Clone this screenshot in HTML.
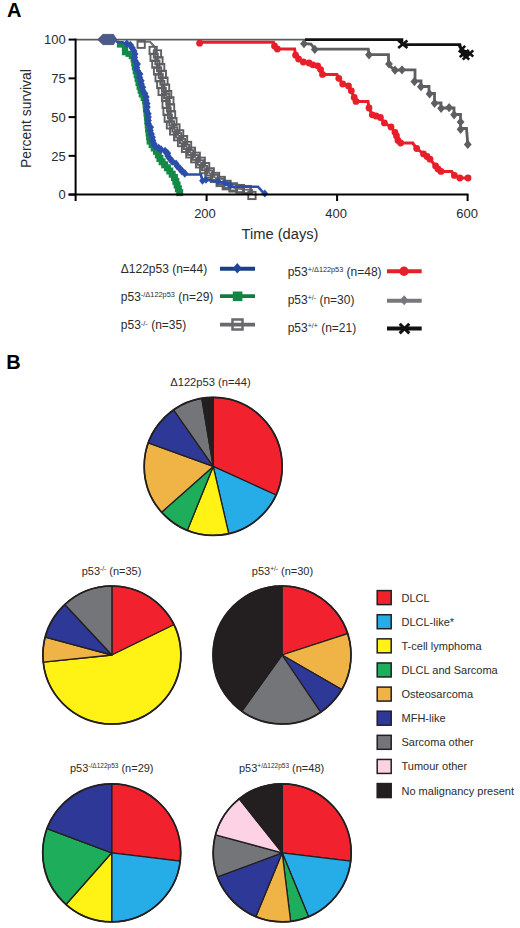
<!DOCTYPE html>
<html><head><meta charset="utf-8"><style>
html,body{margin:0;padding:0;background:#fff;width:520px;height:928px;overflow:hidden;position:relative}
text{font-family:"Liberation Sans",sans-serif}
</style></head><body>
<svg width="520" height="928" viewBox="0 0 520 928" font-family='"Liberation Sans", sans-serif' style="position:absolute;left:0;top:0">
<rect width="520" height="928" fill="#fff"/>
<text x="7" y="17.4" font-size="20" text-anchor="start" fill="#000" font-weight="bold" >A</text>
<line x1="76" y1="39.6" x2="306" y2="39.6" stroke="#5a5b5e" stroke-width="1.6"/>
<polyline points="305.0,39.6 402.0,39.6 402.0,44.6 460.0,44.6 461.0,50.0 468.0,52.0" fill="none" stroke="#111111" stroke-width="2.6"/>
<path d="M398.2,40.5L407.4,48.1M407.4,40.5L398.2,48.1" stroke="#111111" stroke-width="2.6" fill="none"/>
<path d="M458.8,45.8L465.2,52.2M465.2,45.8L458.8,52.2" stroke="#111111" stroke-width="2.6" fill="none"/>
<path d="M462.3,49.8L468.7,56.2M468.7,49.8L462.3,56.2" stroke="#111111" stroke-width="2.6" fill="none"/>
<path d="M466.8,50.3L473.2,56.7M473.2,50.3L466.8,56.7" stroke="#111111" stroke-width="2.6" fill="none"/>
<path d="M462.8,53.3L469.2,59.7M469.2,53.3L462.8,59.7" stroke="#111111" stroke-width="2.6" fill="none"/>
<path d="M459.8,50.8L466.2,57.2M466.2,50.8L459.8,57.2" stroke="#111111" stroke-width="2.6" fill="none"/>
<polyline points="304.0,43.7 311.0,44.2 314.8,49.2 368.3,49.2 369.0,54.6 388.5,54.6 388.5,65.0 395.0,70.2 402.0,69.8 415.0,69.8 415.0,81.0 421.0,81.0 421.0,86.5 429.0,86.5 429.0,93.5 434.5,93.5 434.5,103.0 441.0,103.0 441.0,108.0 449.0,108.0 454.0,108.0 454.0,114.5 460.5,114.5 460.5,128.5 466.5,128.5 467.8,144.4" fill="none" stroke="#5d5e61" stroke-width="2.8"/>
<path d="M304.0,39.1L307.9,43.7L304.0,48.3L300.1,43.7Z" fill="#5d5e61" stroke="none" stroke-width="0"/>
<path d="M314.8,44.8L318.7,49.4L314.8,54.0L310.9,49.4Z" fill="#5d5e61" stroke="none" stroke-width="0"/>
<path d="M369.0,50.2L372.9,54.8L369.0,59.4L365.1,54.8Z" fill="#5d5e61" stroke="none" stroke-width="0"/>
<path d="M389.0,59.4L392.9,64.0L389.0,68.6L385.1,64.0Z" fill="#5d5e61" stroke="none" stroke-width="0"/>
<path d="M395.0,65.6L398.9,70.2L395.0,74.8L391.1,70.2Z" fill="#5d5e61" stroke="none" stroke-width="0"/>
<path d="M402.0,65.2L405.9,69.8L402.0,74.4L398.1,69.8Z" fill="#5d5e61" stroke="none" stroke-width="0"/>
<path d="M414.4,77.0L418.3,81.6L414.4,86.2L410.5,81.6Z" fill="#5d5e61" stroke="none" stroke-width="0"/>
<path d="M420.9,82.1L424.8,86.7L420.9,91.3L417.0,86.7Z" fill="#5d5e61" stroke="none" stroke-width="0"/>
<path d="M429.6,89.3L433.5,93.9L429.6,98.5L425.7,93.9Z" fill="#5d5e61" stroke="none" stroke-width="0"/>
<path d="M434.6,98.7L438.5,103.3L434.6,107.9L430.7,103.3Z" fill="#5d5e61" stroke="none" stroke-width="0"/>
<path d="M441.1,103.7L445.0,108.3L441.1,112.9L437.2,108.3Z" fill="#5d5e61" stroke="none" stroke-width="0"/>
<path d="M449.1,103.0L453.0,107.6L449.1,112.2L445.2,107.6Z" fill="#5d5e61" stroke="none" stroke-width="0"/>
<path d="M454.1,110.2L458.0,114.8L454.1,119.4L450.2,114.8Z" fill="#5d5e61" stroke="none" stroke-width="0"/>
<path d="M460.6,117.4L464.5,122.0L460.6,126.6L456.7,122.0Z" fill="#5d5e61" stroke="none" stroke-width="0"/>
<path d="M460.6,124.7L464.5,129.3L460.6,133.9L456.7,129.3Z" fill="#5d5e61" stroke="none" stroke-width="0"/>
<path d="M467.8,139.8L471.7,144.4L467.8,149.0L463.9,144.4Z" fill="#5d5e61" stroke="none" stroke-width="0"/>
<polyline points="199.0,42.2 273.5,42.2 274.4,45.6 277.3,49.0 294.6,49.0 295.6,55.2 298.5,59.0 303.3,62.0 309.0,63.0 312.9,64.8 317.7,65.8 320.6,69.6 322.5,74.4 337.0,74.4 338.8,78.3 342.7,84.0 348.5,86.0 351.3,90.8 354.2,97.5 356.0,101.4 368.0,101.4 369.0,108.0 372.3,114.8 380.4,117.5 384.4,122.9 391.0,127.0 395.0,132.3 398.0,140.4 400.6,143.0 412.7,143.0 416.7,148.5 423.5,153.9 430.0,159.2 435.6,166.0 441.0,171.4 451.7,171.4 454.4,175.4 459.8,178.0 468.0,178.0" fill="none" stroke="#e81e2b" stroke-width="3"/>
<circle cx="199.6" cy="43.2" r="3.4" fill="#e81e2b"/>
<circle cx="274.5" cy="46" r="3.4" fill="#e81e2b"/>
<circle cx="277.3" cy="49" r="3.4" fill="#e81e2b"/>
<circle cx="295.6" cy="55.2" r="3.4" fill="#e81e2b"/>
<circle cx="298.5" cy="59" r="3.4" fill="#e81e2b"/>
<circle cx="303.3" cy="62" r="3.4" fill="#e81e2b"/>
<circle cx="309" cy="63" r="3.4" fill="#e81e2b"/>
<circle cx="312.9" cy="64.8" r="3.4" fill="#e81e2b"/>
<circle cx="317.7" cy="65.8" r="3.4" fill="#e81e2b"/>
<circle cx="320.6" cy="69.6" r="3.4" fill="#e81e2b"/>
<circle cx="322.5" cy="74.4" r="3.4" fill="#e81e2b"/>
<circle cx="338.8" cy="78.3" r="3.4" fill="#e81e2b"/>
<circle cx="342.7" cy="84" r="3.4" fill="#e81e2b"/>
<circle cx="348.5" cy="86" r="3.4" fill="#e81e2b"/>
<circle cx="351.3" cy="90.8" r="3.4" fill="#e81e2b"/>
<circle cx="354.2" cy="97.5" r="3.4" fill="#e81e2b"/>
<circle cx="356" cy="101.4" r="3.4" fill="#e81e2b"/>
<circle cx="369" cy="108" r="3.4" fill="#e81e2b"/>
<circle cx="372.3" cy="114.8" r="3.4" fill="#e81e2b"/>
<circle cx="380.4" cy="117.5" r="3.4" fill="#e81e2b"/>
<circle cx="384.4" cy="122.9" r="3.4" fill="#e81e2b"/>
<circle cx="391" cy="127" r="3.4" fill="#e81e2b"/>
<circle cx="395" cy="132.3" r="3.4" fill="#e81e2b"/>
<circle cx="398" cy="140.4" r="3.4" fill="#e81e2b"/>
<circle cx="400.6" cy="143" r="3.4" fill="#e81e2b"/>
<circle cx="416.7" cy="148.5" r="3.4" fill="#e81e2b"/>
<circle cx="423.5" cy="153.9" r="3.4" fill="#e81e2b"/>
<circle cx="430" cy="159.2" r="3.4" fill="#e81e2b"/>
<circle cx="435.6" cy="166" r="3.4" fill="#e81e2b"/>
<circle cx="441" cy="171.4" r="3.4" fill="#e81e2b"/>
<circle cx="454.4" cy="175.4" r="3.4" fill="#e81e2b"/>
<circle cx="459.8" cy="178" r="3.4" fill="#e81e2b"/>
<circle cx="468" cy="178" r="3.4" fill="#e81e2b"/>
<circle cx="376" cy="116" r="3.4" fill="#e81e2b"/>
<circle cx="396.5" cy="136" r="3.4" fill="#e81e2b"/>
<circle cx="427" cy="156.5" r="3.4" fill="#e81e2b"/>
<circle cx="438" cy="169" r="3.4" fill="#e81e2b"/>
<polyline points="138.0,41.8 150.0,41.8 154.8,47.0 155.5,55.0 157.3,62.0 160.0,73.0 163.1,86.0 164.5,93.0 167.5,97.0 168.2,105.0 169.6,115.0 171.0,122.0 175.0,130.0 182.5,141.0 190.0,152.0 196.0,158.0 201.0,163.0 206.0,170.0 213.0,176.0 220.0,181.0 226.0,185.0 235.0,188.0 245.0,189.5 252.0,190.0 252.0,195.0" fill="none" stroke="#6d6e71" stroke-width="2"/>
<rect x="137.5" y="40.6" width="7.3" height="7.3" fill="none" stroke="#5e5f62" stroke-width="1.9"/>
<rect x="149.5" y="46.8" width="7.3" height="7.3" fill="none" stroke="#5e5f62" stroke-width="1.9"/>
<rect x="153.8" y="50.3" width="7.3" height="7.3" fill="none" stroke="#5e5f62" stroke-width="1.9"/>
<rect x="150.5" y="53.7" width="7.3" height="7.3" fill="none" stroke="#5e5f62" stroke-width="1.9"/>
<rect x="155.3" y="57.1" width="7.3" height="7.3" fill="none" stroke="#5e5f62" stroke-width="1.9"/>
<rect x="152.2" y="60.5" width="7.3" height="7.3" fill="none" stroke="#5e5f62" stroke-width="1.9"/>
<rect x="157.0" y="63.9" width="7.3" height="7.3" fill="none" stroke="#5e5f62" stroke-width="1.9"/>
<rect x="153.9" y="67.3" width="7.3" height="7.3" fill="none" stroke="#5e5f62" stroke-width="1.9"/>
<rect x="158.7" y="70.7" width="7.3" height="7.3" fill="none" stroke="#5e5f62" stroke-width="1.9"/>
<rect x="155.5" y="74.1" width="7.3" height="7.3" fill="none" stroke="#5e5f62" stroke-width="1.9"/>
<rect x="160.3" y="77.5" width="7.3" height="7.3" fill="none" stroke="#5e5f62" stroke-width="1.9"/>
<rect x="157.1" y="80.9" width="7.3" height="7.3" fill="none" stroke="#5e5f62" stroke-width="1.9"/>
<rect x="161.9" y="84.4" width="7.3" height="7.3" fill="none" stroke="#5e5f62" stroke-width="1.9"/>
<rect x="158.5" y="87.8" width="7.3" height="7.3" fill="none" stroke="#5e5f62" stroke-width="1.9"/>
<rect x="164.0" y="90.9" width="7.3" height="7.3" fill="none" stroke="#5e5f62" stroke-width="1.9"/>
<rect x="161.9" y="93.8" width="7.3" height="7.3" fill="none" stroke="#5e5f62" stroke-width="1.9"/>
<rect x="166.2" y="97.2" width="7.3" height="7.3" fill="none" stroke="#5e5f62" stroke-width="1.9"/>
<rect x="162.5" y="100.7" width="7.3" height="7.3" fill="none" stroke="#5e5f62" stroke-width="1.9"/>
<rect x="166.9" y="104.2" width="7.3" height="7.3" fill="none" stroke="#5e5f62" stroke-width="1.9"/>
<rect x="163.4" y="107.7" width="7.3" height="7.3" fill="none" stroke="#5e5f62" stroke-width="1.9"/>
<rect x="167.9" y="111.1" width="7.3" height="7.3" fill="none" stroke="#5e5f62" stroke-width="1.9"/>
<rect x="164.6" y="114.6" width="7.3" height="7.3" fill="none" stroke="#5e5f62" stroke-width="1.9"/>
<rect x="169.3" y="118.0" width="7.3" height="7.3" fill="none" stroke="#5e5f62" stroke-width="1.9"/>
<rect x="166.8" y="121.2" width="7.3" height="7.3" fill="none" stroke="#5e5f62" stroke-width="1.9"/>
<rect x="172.3" y="124.3" width="7.3" height="7.3" fill="none" stroke="#5e5f62" stroke-width="1.9"/>
<rect x="170.0" y="127.3" width="7.3" height="7.3" fill="none" stroke="#5e5f62" stroke-width="1.9"/>
<rect x="176.0" y="130.2" width="7.3" height="7.3" fill="none" stroke="#5e5f62" stroke-width="1.9"/>
<rect x="174.0" y="133.1" width="7.3" height="7.3" fill="none" stroke="#5e5f62" stroke-width="1.9"/>
<rect x="179.9" y="136.0" width="7.3" height="7.3" fill="none" stroke="#5e5f62" stroke-width="1.9"/>
<rect x="177.9" y="138.9" width="7.3" height="7.3" fill="none" stroke="#5e5f62" stroke-width="1.9"/>
<rect x="183.9" y="141.8" width="7.3" height="7.3" fill="none" stroke="#5e5f62" stroke-width="1.9"/>
<rect x="181.9" y="144.7" width="7.3" height="7.3" fill="none" stroke="#5e5f62" stroke-width="1.9"/>
<rect x="187.8" y="147.6" width="7.3" height="7.3" fill="none" stroke="#5e5f62" stroke-width="1.9"/>
<rect x="186.2" y="150.2" width="7.3" height="7.3" fill="none" stroke="#5e5f62" stroke-width="1.9"/>
<rect x="192.6" y="152.6" width="7.3" height="7.3" fill="none" stroke="#5e5f62" stroke-width="1.9"/>
<rect x="191.1" y="155.1" width="7.3" height="7.3" fill="none" stroke="#5e5f62" stroke-width="1.9"/>
<rect x="197.6" y="157.6" width="7.3" height="7.3" fill="none" stroke="#5e5f62" stroke-width="1.9"/>
<rect x="195.9" y="160.2" width="7.3" height="7.3" fill="none" stroke="#5e5f62" stroke-width="1.9"/>
<rect x="202.0" y="163.0" width="7.3" height="7.3" fill="none" stroke="#5e5f62" stroke-width="1.9"/>
<rect x="200.0" y="165.9" width="7.3" height="7.3" fill="none" stroke="#5e5f62" stroke-width="1.9"/>
<rect x="206.6" y="168.2" width="7.3" height="7.3" fill="none" stroke="#5e5f62" stroke-width="1.9"/>
<rect x="205.2" y="170.5" width="7.3" height="7.3" fill="none" stroke="#5e5f62" stroke-width="1.9"/>
<rect x="211.9" y="172.8" width="7.3" height="7.3" fill="none" stroke="#5e5f62" stroke-width="1.9"/>
<rect x="210.8" y="174.8" width="7.3" height="7.3" fill="none" stroke="#5e5f62" stroke-width="1.9"/>
<rect x="217.6" y="176.8" width="7.3" height="7.3" fill="none" stroke="#5e5f62" stroke-width="1.9"/>
<rect x="216.5" y="178.8" width="7.3" height="7.3" fill="none" stroke="#5e5f62" stroke-width="1.9"/>
<rect x="223.4" y="180.7" width="7.3" height="7.3" fill="none" stroke="#5e5f62" stroke-width="1.9"/>
<rect x="222.6" y="182.1" width="7.3" height="7.3" fill="none" stroke="#5e5f62" stroke-width="1.9"/>
<rect x="229.9" y="183.2" width="7.3" height="7.3" fill="none" stroke="#5e5f62" stroke-width="1.9"/>
<rect x="229.3" y="184.3" width="7.3" height="7.3" fill="none" stroke="#5e5f62" stroke-width="1.9"/>
<rect x="236.7" y="184.9" width="7.3" height="7.3" fill="none" stroke="#5e5f62" stroke-width="1.9"/>
<rect x="236.2" y="185.4" width="7.3" height="7.3" fill="none" stroke="#5e5f62" stroke-width="1.9"/>
<rect x="243.6" y="185.9" width="7.3" height="7.3" fill="none" stroke="#5e5f62" stroke-width="1.9"/>
<rect x="243.1" y="186.1" width="7.3" height="7.3" fill="none" stroke="#5e5f62" stroke-width="1.9"/>
<rect x="248.3" y="191.8" width="7.3" height="7.3" fill="none" stroke="#5e5f62" stroke-width="1.9"/>
<path d="M97.8,39.6 L102.8,34.4 L113.5,34.4 L116.6,39.4 L113.5,44.6 L102.8,44.6 Z" fill="#4b5a8b" stroke="#3b4570" stroke-width="0.8"/>
<polyline points="117.0,42.5 122.7,42.5 122.7,46.5 125.0,46.5 125.0,52.3 130.5,54.6 133.5,58.0 135.0,68.0 137.0,76.0 138.4,82.3 140.5,90.0 142.0,95.0 145.0,100.0 146.3,110.0 147.3,120.0 148.3,130.0 149.5,140.0 153.5,147.0 157.0,152.0 160.5,160.0 167.5,168.0 174.0,176.5 177.5,186.0 180.5,195.0" fill="none" stroke="#138a45" stroke-width="2.4"/>
<rect x="116.9" y="41.4" width="6.2" height="6.2" fill="#138a45" stroke="none" stroke-width="0"/>
<rect x="121.9" y="45.1" width="6.2" height="6.2" fill="#138a45" stroke="none" stroke-width="0"/>
<rect x="121.9" y="49.1" width="6.2" height="6.2" fill="#138a45" stroke="none" stroke-width="0"/>
<rect x="125.5" y="50.7" width="6.2" height="6.2" fill="#138a45" stroke="none" stroke-width="0"/>
<rect x="128.7" y="53.0" width="6.2" height="6.2" fill="#138a45" stroke="none" stroke-width="0"/>
<rect x="130.6" y="56.3" width="6.2" height="6.2" fill="#138a45" stroke="none" stroke-width="0"/>
<rect x="131.2" y="60.2" width="6.2" height="6.2" fill="#138a45" stroke="none" stroke-width="0"/>
<rect x="131.8" y="64.2" width="6.2" height="6.2" fill="#138a45" stroke="none" stroke-width="0"/>
<rect x="132.7" y="68.1" width="6.2" height="6.2" fill="#138a45" stroke="none" stroke-width="0"/>
<rect x="133.7" y="72.0" width="6.2" height="6.2" fill="#138a45" stroke="none" stroke-width="0"/>
<rect x="134.6" y="75.9" width="6.2" height="6.2" fill="#138a45" stroke="none" stroke-width="0"/>
<rect x="135.5" y="79.8" width="6.2" height="6.2" fill="#138a45" stroke="none" stroke-width="0"/>
<rect x="136.5" y="83.6" width="6.2" height="6.2" fill="#138a45" stroke="none" stroke-width="0"/>
<rect x="137.6" y="87.5" width="6.2" height="6.2" fill="#138a45" stroke="none" stroke-width="0"/>
<rect x="138.7" y="91.3" width="6.2" height="6.2" fill="#138a45" stroke="none" stroke-width="0"/>
<rect x="140.6" y="94.8" width="6.2" height="6.2" fill="#138a45" stroke="none" stroke-width="0"/>
<rect x="142.1" y="98.4" width="6.2" height="6.2" fill="#138a45" stroke="none" stroke-width="0"/>
<rect x="142.6" y="102.4" width="6.2" height="6.2" fill="#138a45" stroke="none" stroke-width="0"/>
<rect x="143.1" y="106.4" width="6.2" height="6.2" fill="#138a45" stroke="none" stroke-width="0"/>
<rect x="143.5" y="110.4" width="6.2" height="6.2" fill="#138a45" stroke="none" stroke-width="0"/>
<rect x="143.9" y="114.3" width="6.2" height="6.2" fill="#138a45" stroke="none" stroke-width="0"/>
<rect x="144.3" y="118.3" width="6.2" height="6.2" fill="#138a45" stroke="none" stroke-width="0"/>
<rect x="144.7" y="122.3" width="6.2" height="6.2" fill="#138a45" stroke="none" stroke-width="0"/>
<rect x="145.1" y="126.3" width="6.2" height="6.2" fill="#138a45" stroke="none" stroke-width="0"/>
<rect x="145.6" y="130.3" width="6.2" height="6.2" fill="#138a45" stroke="none" stroke-width="0"/>
<rect x="146.1" y="134.2" width="6.2" height="6.2" fill="#138a45" stroke="none" stroke-width="0"/>
<rect x="146.6" y="137.6" width="7.0" height="7.0" fill="#138a45" stroke="none" stroke-width="0"/>
<rect x="148.6" y="141.1" width="7.0" height="7.0" fill="#138a45" stroke="none" stroke-width="0"/>
<rect x="150.7" y="144.5" width="7.0" height="7.0" fill="#138a45" stroke="none" stroke-width="0"/>
<rect x="153.0" y="147.8" width="7.0" height="7.0" fill="#138a45" stroke="none" stroke-width="0"/>
<rect x="154.8" y="151.4" width="7.0" height="7.0" fill="#138a45" stroke="none" stroke-width="0"/>
<rect x="156.4" y="155.0" width="7.0" height="7.0" fill="#138a45" stroke="none" stroke-width="0"/>
<rect x="158.6" y="158.3" width="7.0" height="7.0" fill="#138a45" stroke="none" stroke-width="0"/>
<rect x="161.2" y="161.3" width="7.0" height="7.0" fill="#138a45" stroke="none" stroke-width="0"/>
<rect x="163.9" y="164.3" width="7.0" height="7.0" fill="#138a45" stroke="none" stroke-width="0"/>
<rect x="166.3" y="167.5" width="7.0" height="7.0" fill="#138a45" stroke="none" stroke-width="0"/>
<rect x="168.7" y="170.7" width="7.0" height="7.0" fill="#138a45" stroke="none" stroke-width="0"/>
<rect x="170.9" y="174.0" width="7.0" height="7.0" fill="#138a45" stroke="none" stroke-width="0"/>
<rect x="172.3" y="177.8" width="7.0" height="7.0" fill="#138a45" stroke="none" stroke-width="0"/>
<rect x="173.6" y="181.5" width="7.0" height="7.0" fill="#138a45" stroke="none" stroke-width="0"/>
<rect x="174.9" y="185.3" width="7.0" height="7.0" fill="#138a45" stroke="none" stroke-width="0"/>
<rect x="176.2" y="189.1" width="7.0" height="7.0" fill="#138a45" stroke="none" stroke-width="0"/>
<polyline points="116.0,41.5 124.0,43.0 129.6,44.2 133.0,48.8 135.3,56.5 137.2,67.8 139.0,75.0 140.8,82.3 142.5,88.0 145.0,95.0 146.6,104.7 147.6,114.4 149.2,124.1 150.2,130.6 152.1,140.3 153.5,145.0 158.0,148.0 166.0,152.0 171.5,160.0 180.0,169.0 186.0,174.5 187.0,174.5 200.8,174.5 202.5,180.7 206.0,179.8 215.0,181.0 225.0,183.0 230.0,184.5 230.0,186.7 258.0,186.7 264.8,194.3" fill="none" stroke="#2b4fa8" stroke-width="2.6"/>
<path d="M126.8,39.4L130.5,43.7L126.8,48.0L123.1,43.7Z" fill="#2b4fa8" stroke="none" stroke-width="0"/>
<path d="M130.3,40.8L134.0,45.1L130.3,49.4L126.7,45.1Z" fill="#2b4fa8" stroke="none" stroke-width="0"/>
<path d="M132.0,43.5L135.7,47.8L132.0,52.1L128.3,47.8Z" fill="#2b4fa8" stroke="none" stroke-width="0"/>
<path d="M133.8,46.6L137.5,50.9L133.8,55.2L130.2,50.9Z" fill="#2b4fa8" stroke="none" stroke-width="0"/>
<path d="M134.8,49.8L138.5,54.1L134.8,58.4L131.2,54.1Z" fill="#2b4fa8" stroke="none" stroke-width="0"/>
<path d="M134.6,53.1L138.2,57.4L134.6,61.7L130.9,57.4Z" fill="#2b4fa8" stroke="none" stroke-width="0"/>
<path d="M135.0,56.5L138.7,60.8L135.0,65.1L131.4,60.8Z" fill="#2b4fa8" stroke="none" stroke-width="0"/>
<path d="M137.3,59.8L140.9,64.1L137.3,68.4L133.6,64.1Z" fill="#2b4fa8" stroke="none" stroke-width="0"/>
<path d="M136.7,63.2L140.3,67.5L136.7,71.8L133.0,67.5Z" fill="#2b4fa8" stroke="none" stroke-width="0"/>
<path d="M137.4,66.5L141.1,70.8L137.4,75.1L133.8,70.8Z" fill="#2b4fa8" stroke="none" stroke-width="0"/>
<path d="M139.8,69.8L143.4,74.1L139.8,78.4L136.1,74.1Z" fill="#2b4fa8" stroke="none" stroke-width="0"/>
<path d="M139.5,73.1L143.2,77.4L139.5,81.7L135.9,77.4Z" fill="#2b4fa8" stroke="none" stroke-width="0"/>
<path d="M141.1,76.4L144.7,80.7L141.1,85.0L137.4,80.7Z" fill="#2b4fa8" stroke="none" stroke-width="0"/>
<path d="M141.2,79.6L144.9,83.9L141.2,88.2L137.6,83.9Z" fill="#2b4fa8" stroke="none" stroke-width="0"/>
<path d="M142.5,82.9L146.2,87.2L142.5,91.5L138.9,87.2Z" fill="#2b4fa8" stroke="none" stroke-width="0"/>
<path d="M142.7,86.1L146.3,90.4L142.7,94.7L139.0,90.4Z" fill="#2b4fa8" stroke="none" stroke-width="0"/>
<path d="M144.8,89.3L148.4,93.6L144.8,97.9L141.1,93.6Z" fill="#2b4fa8" stroke="none" stroke-width="0"/>
<path d="M146.1,92.6L149.7,96.9L146.1,101.2L142.4,96.9Z" fill="#2b4fa8" stroke="none" stroke-width="0"/>
<path d="M145.9,96.0L149.6,100.3L145.9,104.6L142.3,100.3Z" fill="#2b4fa8" stroke="none" stroke-width="0"/>
<path d="M146.9,99.3L150.6,103.6L146.9,107.9L143.2,103.6Z" fill="#2b4fa8" stroke="none" stroke-width="0"/>
<path d="M147.2,102.7L150.8,107.0L147.2,111.3L143.5,107.0Z" fill="#2b4fa8" stroke="none" stroke-width="0"/>
<path d="M146.3,106.1L150.0,110.4L146.3,114.7L142.7,110.4Z" fill="#2b4fa8" stroke="none" stroke-width="0"/>
<path d="M148.1,109.5L151.7,113.8L148.1,118.1L144.4,113.8Z" fill="#2b4fa8" stroke="none" stroke-width="0"/>
<path d="M148.2,112.8L151.9,117.1L148.2,121.4L144.6,117.1Z" fill="#2b4fa8" stroke="none" stroke-width="0"/>
<path d="M148.2,116.2L151.9,120.5L148.2,124.8L144.5,120.5Z" fill="#2b4fa8" stroke="none" stroke-width="0"/>
<path d="M148.2,119.5L151.9,123.8L148.2,128.1L144.6,123.8Z" fill="#2b4fa8" stroke="none" stroke-width="0"/>
<path d="M150.4,122.9L154.1,127.2L150.4,131.5L146.8,127.2Z" fill="#2b4fa8" stroke="none" stroke-width="0"/>
<path d="M150.1,126.2L153.8,130.5L150.1,134.8L146.5,130.5Z" fill="#2b4fa8" stroke="none" stroke-width="0"/>
<path d="M151.3,129.6L154.9,133.9L151.3,138.2L147.6,133.9Z" fill="#2b4fa8" stroke="none" stroke-width="0"/>
<path d="M152.3,132.9L155.9,137.2L152.3,141.5L148.6,137.2Z" fill="#2b4fa8" stroke="none" stroke-width="0"/>
<path d="M152.6,136.3L156.3,140.6L152.6,144.9L148.9,140.6Z" fill="#2b4fa8" stroke="none" stroke-width="0"/>
<path d="M154.0,139.5L157.6,143.8L154.0,148.1L150.3,143.8Z" fill="#2b4fa8" stroke="none" stroke-width="0"/>
<path d="M155.1,141.9L158.7,146.2L155.1,150.5L151.4,146.2Z" fill="#2b4fa8" stroke="none" stroke-width="0"/>
<path d="M158.7,143.8L162.4,148.1L158.7,152.4L155.1,148.1Z" fill="#2b4fa8" stroke="none" stroke-width="0"/>
<path d="M161.1,145.3L164.7,149.6L161.1,153.9L157.4,149.6Z" fill="#2b4fa8" stroke="none" stroke-width="0"/>
<path d="M165.1,146.8L168.7,151.1L165.1,155.4L161.4,151.1Z" fill="#2b4fa8" stroke="none" stroke-width="0"/>
<path d="M167.6,148.9L171.2,153.2L167.6,157.5L163.9,153.2Z" fill="#2b4fa8" stroke="none" stroke-width="0"/>
<path d="M167.9,151.7L171.6,156.0L167.9,160.3L164.3,156.0Z" fill="#2b4fa8" stroke="none" stroke-width="0"/>
<path d="M169.9,154.5L173.6,158.8L169.9,163.1L166.3,158.8Z" fill="#2b4fa8" stroke="none" stroke-width="0"/>
<path d="M172.2,157.1L175.9,161.4L172.2,165.7L168.6,161.4Z" fill="#2b4fa8" stroke="none" stroke-width="0"/>
<path d="M176.1,159.6L179.7,163.9L176.1,168.2L172.4,163.9Z" fill="#2b4fa8" stroke="none" stroke-width="0"/>
<path d="M177.3,162.0L181.0,166.3L177.3,170.6L173.7,166.3Z" fill="#2b4fa8" stroke="none" stroke-width="0"/>
<path d="M180.1,164.5L183.7,168.8L180.1,173.1L176.4,168.8Z" fill="#2b4fa8" stroke="none" stroke-width="0"/>
<path d="M181.9,166.8L185.6,171.1L181.9,175.4L178.2,171.1Z" fill="#2b4fa8" stroke="none" stroke-width="0"/>
<path d="M184.8,169.1L188.5,173.4L184.8,177.7L181.2,173.4Z" fill="#2b4fa8" stroke="none" stroke-width="0"/>
<path d="M202.5,176.7L205.9,180.7L202.5,184.7L199.1,180.7Z" fill="#2b4fa8" stroke="none" stroke-width="0"/>
<path d="M206.0,175.8L209.4,179.8L206.0,183.8L202.6,179.8Z" fill="#2b4fa8" stroke="none" stroke-width="0"/>
<path d="M218.0,177.5L221.4,181.5L218.0,185.5L214.6,181.5Z" fill="#2b4fa8" stroke="none" stroke-width="0"/>
<path d="M225.0,179.0L228.4,183.0L225.0,187.0L221.6,183.0Z" fill="#2b4fa8" stroke="none" stroke-width="0"/>
<path d="M230.0,181.0L233.4,185.0L230.0,189.0L226.6,185.0Z" fill="#2b4fa8" stroke="none" stroke-width="0"/>
<path d="M264.8,189.5L268.2,193.5L264.8,197.5L261.4,193.5Z" fill="#2b4fa8" stroke="none" stroke-width="0"/>
<g stroke="#000" stroke-width="2" fill="none">
<line x1="75.6" y1="38.6" x2="75.6" y2="201"/>
<line x1="68.6" y1="194.6" x2="468.5" y2="194.6"/>
<line x1="68.6" y1="39.60" x2="75.6" y2="39.60"/>
<line x1="68.6" y1="78.35" x2="75.6" y2="78.35"/>
<line x1="68.6" y1="117.10" x2="75.6" y2="117.10"/>
<line x1="68.6" y1="155.85" x2="75.6" y2="155.85"/>
<line x1="68.6" y1="194.60" x2="75.6" y2="194.60"/>
<line x1="206.6" y1="194.6" x2="206.6" y2="201"/>
<line x1="337.1" y1="194.6" x2="337.1" y2="201"/>
<line x1="467.6" y1="194.6" x2="467.6" y2="201"/>
</g>
<text x="65.8" y="44.3" font-size="13" text-anchor="end" fill="#2b2b2b" font-weight="normal" >100</text>
<text x="65.8" y="83.0" font-size="13" text-anchor="end" fill="#2b2b2b" font-weight="normal" >75</text>
<text x="65.8" y="121.8" font-size="13" text-anchor="end" fill="#2b2b2b" font-weight="normal" >50</text>
<text x="65.8" y="160.5" font-size="13" text-anchor="end" fill="#2b2b2b" font-weight="normal" >25</text>
<text x="65.8" y="199.3" font-size="13" text-anchor="end" fill="#2b2b2b" font-weight="normal" >0</text>
<text x="205.0" y="217.6" font-size="13" text-anchor="middle" fill="#2b2b2b" font-weight="normal" >200</text>
<text x="336.1" y="217.6" font-size="13" text-anchor="middle" fill="#2b2b2b" font-weight="normal" >400</text>
<text x="467.2" y="217.6" font-size="13" text-anchor="middle" fill="#2b2b2b" font-weight="normal" >600</text>
<text x="280" y="238.6" font-size="14.7" text-anchor="middle" fill="#2b2b2b" font-weight="normal" >Time (days)</text>
<text x="0" y="0" font-size="13.9" text-anchor="middle" fill="#2b2b2b" transform="translate(30.9,118.6) rotate(-90)">Percent survival</text>
<text x="120.8" y="273.0" font-size="12" text-anchor="start" fill="#2b2b2b" font-weight="normal" >Δ122p53 (n=44)</text>
<text x="120.8" y="301.0" font-size="12" fill="#2b2b2b">p53<tspan font-size="7.4" dy="-3.9">-/Δ122p53</tspan><tspan dy="3.9"> (n=29)</tspan></text>
<text x="120.8" y="329.2" font-size="12" fill="#2b2b2b">p53<tspan font-size="7.4" dy="-3.2">-/-</tspan><tspan dy="3.2"> (n=35)</tspan></text>
<text x="287.7" y="276.3" font-size="12" fill="#2b2b2b">p53<tspan font-size="7.3" dy="-3.9">+/Δ122p53</tspan><tspan dy="3.9"> (n=48)</tspan></text>
<text x="287.7" y="303.8" font-size="12" fill="#2b2b2b">p53<tspan font-size="7.0" dy="-4.2">+/-</tspan><tspan dy="4.2"> (n=30)</tspan></text>
<text x="287.7" y="332.1" font-size="12" fill="#2b2b2b">p53<tspan font-size="7.0" dy="-4.2">+/+</tspan><tspan dy="4.2"> (n=21)</tspan></text>
<line x1="220" y1="268.7" x2="255" y2="268.7" stroke="#1b3f85" stroke-width="4"/>
<path d="M237.3,263.0L241.7,268.2L237.3,273.4L232.9,268.2Z" fill="#1f4596" stroke="none" stroke-width="0"/>
<line x1="220" y1="296.2" x2="255" y2="296.2" stroke="#147a42" stroke-width="3.8"/>
<rect x="232.8" y="291.5" width="9.6" height="9.6" fill="#158546" stroke="none" stroke-width="0"/>
<line x1="220" y1="324.7" x2="255" y2="324.7" stroke="#69696e" stroke-width="3.8"/>
<rect x="232.5" y="319.5" width="10.0" height="10.0" fill="none" stroke="#69696e" stroke-width="2.5"/>
<line x1="387" y1="271.2" x2="421.7" y2="271.2" stroke="#e81e2b" stroke-width="4"/>
<circle cx="404" cy="271.2" r="4.7" fill="#e81e2b"/>
<line x1="387" y1="300.7" x2="421.7" y2="300.7" stroke="#77787b" stroke-width="4"/>
<path d="M404.2,295.2L408.4,300.2L404.2,305.2L399.9,300.2Z" fill="#77787b" stroke="none" stroke-width="0"/>
<line x1="387" y1="328.6" x2="421.7" y2="328.6" stroke="#111111" stroke-width="4"/>
<path d="M399.7,323.8L409.3,333.4M409.3,323.8L399.7,333.4" stroke="#111111" stroke-width="3" fill="none"/>
<text x="6.3" y="369.4" font-size="20" text-anchor="start" fill="#000" font-weight="bold" >B</text>
<text x="210.5" y="386.3" font-size="11.2" text-anchor="middle" fill="#2b2b2b" font-weight="normal" >Δ122p53 (n=44)</text>
<path d="M213.2,466.4 L213.20,397.40 A69.0,69.0 0 0 1 275.99,495.01 Z" fill="#f1222d" stroke="#231f20" stroke-width="1.3" stroke-linejoin="round"/>
<path d="M213.2,466.4 L275.99,495.01 A69.0,69.0 0 0 1 228.72,533.63 Z" fill="#26ace6" stroke="#231f20" stroke-width="1.3" stroke-linejoin="round"/>
<path d="M213.2,466.4 L228.72,533.63 A69.0,69.0 0 0 1 187.35,530.38 Z" fill="#fff214" stroke="#231f20" stroke-width="1.3" stroke-linejoin="round"/>
<path d="M213.2,466.4 L187.35,530.38 A69.0,69.0 0 0 1 161.60,512.21 Z" fill="#1ead5a" stroke="#231f20" stroke-width="1.3" stroke-linejoin="round"/>
<path d="M213.2,466.4 L161.60,512.21 A69.0,69.0 0 0 1 148.36,442.80 Z" fill="#f0b446" stroke="#231f20" stroke-width="1.3" stroke-linejoin="round"/>
<path d="M213.2,466.4 L148.36,442.80 A69.0,69.0 0 0 1 173.62,409.88 Z" fill="#2e3896" stroke="#231f20" stroke-width="1.3" stroke-linejoin="round"/>
<path d="M213.2,466.4 L173.62,409.88 A69.0,69.0 0 0 1 201.81,398.35 Z" fill="#747579" stroke="#231f20" stroke-width="1.3" stroke-linejoin="round"/>
<path d="M213.2,466.4 L201.81,398.35 A69.0,69.0 0 0 1 213.20,397.40 Z" fill="#231f20" stroke="#231f20" stroke-width="1.3" stroke-linejoin="round"/>
<circle cx="213.2" cy="466.4" r="69.0" fill="none" stroke="#231f20" stroke-width="1.7"/>
<text x="81.7" y="575" font-size="11" fill="#2b2b2b">p53<tspan font-size="6.5" dy="-3.7">-/-</tspan><tspan dy="3.7"> (n=35)</tspan></text>
<path d="M111.9,655.0 L111.90,586.00 A69.0,69.0 0 0 1 173.92,624.75 Z" fill="#f1222d" stroke="#231f20" stroke-width="1.3" stroke-linejoin="round"/>
<path d="M111.9,655.0 L173.92,624.75 A69.0,69.0 0 1 1 43.28,662.21 Z" fill="#fff214" stroke="#231f20" stroke-width="1.3" stroke-linejoin="round"/>
<path d="M111.9,655.0 L43.28,662.21 A69.0,69.0 0 0 1 45.25,637.14 Z" fill="#f0b446" stroke="#231f20" stroke-width="1.3" stroke-linejoin="round"/>
<path d="M111.9,655.0 L45.25,637.14 A69.0,69.0 0 0 1 64.84,604.54 Z" fill="#2e3896" stroke="#231f20" stroke-width="1.3" stroke-linejoin="round"/>
<path d="M111.9,655.0 L64.84,604.54 A69.0,69.0 0 0 1 111.90,586.00 Z" fill="#747579" stroke="#231f20" stroke-width="1.3" stroke-linejoin="round"/>
<circle cx="111.9" cy="655.0" r="69.0" fill="none" stroke="#231f20" stroke-width="1.7"/>
<text x="251.8" y="575" font-size="11" fill="#2b2b2b">p53<tspan font-size="6.5" dy="-3.7">+/-</tspan><tspan dy="3.7"> (n=30)</tspan></text>
<path d="M282.0,655.0 L282.00,586.00 A69.0,69.0 0 0 1 347.62,633.68 Z" fill="#f1222d" stroke="#231f20" stroke-width="1.3" stroke-linejoin="round"/>
<path d="M282.0,655.0 L347.62,633.68 A69.0,69.0 0 0 1 341.76,689.50 Z" fill="#f0b446" stroke="#231f20" stroke-width="1.3" stroke-linejoin="round"/>
<path d="M282.0,655.0 L341.76,689.50 A69.0,69.0 0 0 1 320.58,712.20 Z" fill="#2e3896" stroke="#231f20" stroke-width="1.3" stroke-linejoin="round"/>
<path d="M282.0,655.0 L320.58,712.20 A69.0,69.0 0 0 1 241.93,711.17 Z" fill="#747579" stroke="#231f20" stroke-width="1.3" stroke-linejoin="round"/>
<path d="M282.0,655.0 L241.93,711.17 A69.0,69.0 0 0 1 282.00,586.00 Z" fill="#231f20" stroke="#231f20" stroke-width="1.3" stroke-linejoin="round"/>
<circle cx="282.0" cy="655.0" r="69.0" fill="none" stroke="#231f20" stroke-width="1.7"/>
<text x="70" y="772.2" font-size="11" fill="#2b2b2b">p53<tspan font-size="6.5" dy="-4.1">-/Δ122p53</tspan><tspan dy="4.1"> (n=29)</tspan></text>
<path d="M111.7,852.8 L111.70,783.80 A69.0,69.0 0 0 1 180.19,861.21 Z" fill="#f1222d" stroke="#231f20" stroke-width="1.3" stroke-linejoin="round"/>
<path d="M111.7,852.8 L180.19,861.21 A69.0,69.0 0 0 1 111.70,921.80 Z" fill="#26ace6" stroke="#231f20" stroke-width="1.3" stroke-linejoin="round"/>
<path d="M111.7,852.8 L111.70,921.80 A69.0,69.0 0 0 1 65.98,904.48 Z" fill="#fff214" stroke="#231f20" stroke-width="1.3" stroke-linejoin="round"/>
<path d="M111.7,852.8 L65.98,904.48 A69.0,69.0 0 0 1 47.07,828.64 Z" fill="#1ead5a" stroke="#231f20" stroke-width="1.3" stroke-linejoin="round"/>
<path d="M111.7,852.8 L47.07,828.64 A69.0,69.0 0 0 1 111.70,783.80 Z" fill="#2e3896" stroke="#231f20" stroke-width="1.3" stroke-linejoin="round"/>
<circle cx="111.7" cy="852.8" r="69.0" fill="none" stroke="#231f20" stroke-width="1.7"/>
<text x="239" y="772.2" font-size="11" fill="#2b2b2b">p53<tspan font-size="6.5" dy="-4.1">+/Δ122p53</tspan><tspan dy="4.1"> (n=48)</tspan></text>
<path d="M282.2,852.8 L282.20,783.80 A69.0,69.0 0 0 1 350.70,861.09 Z" fill="#f1222d" stroke="#231f20" stroke-width="1.3" stroke-linejoin="round"/>
<path d="M282.2,852.8 L350.70,861.09 A69.0,69.0 0 0 1 308.49,916.59 Z" fill="#26ace6" stroke="#231f20" stroke-width="1.3" stroke-linejoin="round"/>
<path d="M282.2,852.8 L308.49,916.59 A69.0,69.0 0 0 1 290.61,921.29 Z" fill="#1ead5a" stroke="#231f20" stroke-width="1.3" stroke-linejoin="round"/>
<path d="M282.2,852.8 L290.61,921.29 A69.0,69.0 0 0 1 255.91,916.59 Z" fill="#f0b446" stroke="#231f20" stroke-width="1.3" stroke-linejoin="round"/>
<path d="M282.2,852.8 L255.91,916.59 A69.0,69.0 0 0 1 217.57,876.96 Z" fill="#2e3896" stroke="#231f20" stroke-width="1.3" stroke-linejoin="round"/>
<path d="M282.2,852.8 L217.57,876.96 A69.0,69.0 0 0 1 215.55,834.94 Z" fill="#747579" stroke="#231f20" stroke-width="1.3" stroke-linejoin="round"/>
<path d="M282.2,852.8 L215.55,834.94 A69.0,69.0 0 0 1 239.25,798.80 Z" fill="#fcd2e4" stroke="#231f20" stroke-width="1.3" stroke-linejoin="round"/>
<path d="M282.2,852.8 L239.25,798.80 A69.0,69.0 0 0 1 282.20,783.80 Z" fill="#231f20" stroke="#231f20" stroke-width="1.3" stroke-linejoin="round"/>
<circle cx="282.2" cy="852.8" r="69.0" fill="none" stroke="#231f20" stroke-width="1.7"/>
<rect x="377.2" y="590.60" width="14" height="14" fill="#f1222d" stroke="#231f20" stroke-width="1.5"/>
<text x="401.5" y="601.6" font-size="11" text-anchor="start" fill="#2b2b2b" font-weight="normal" >DLCL</text>
<rect x="377.2" y="614.72" width="14" height="14" fill="#26ace6" stroke="#231f20" stroke-width="1.5"/>
<text x="401.5" y="625.7" font-size="11" text-anchor="start" fill="#2b2b2b" font-weight="normal" >DLCL-like*</text>
<rect x="377.2" y="638.84" width="14" height="14" fill="#fff214" stroke="#231f20" stroke-width="1.5"/>
<text x="401.5" y="649.8" font-size="11" text-anchor="start" fill="#2b2b2b" font-weight="normal" >T-cell lymphoma</text>
<rect x="377.2" y="662.96" width="14" height="14" fill="#1ead5a" stroke="#231f20" stroke-width="1.5"/>
<text x="401.5" y="674.0" font-size="11" text-anchor="start" fill="#2b2b2b" font-weight="normal" >DLCL and Sarcoma</text>
<rect x="377.2" y="687.08" width="14" height="14" fill="#f0b446" stroke="#231f20" stroke-width="1.5"/>
<text x="401.5" y="698.1" font-size="11" text-anchor="start" fill="#2b2b2b" font-weight="normal" >Osteosarcoma</text>
<rect x="377.2" y="711.20" width="14" height="14" fill="#2e3896" stroke="#231f20" stroke-width="1.5"/>
<text x="401.5" y="722.2" font-size="11" text-anchor="start" fill="#2b2b2b" font-weight="normal" >MFH-like</text>
<rect x="377.2" y="735.32" width="14" height="14" fill="#747579" stroke="#231f20" stroke-width="1.5"/>
<text x="401.5" y="746.3" font-size="11" text-anchor="start" fill="#2b2b2b" font-weight="normal" >Sarcoma other</text>
<rect x="377.2" y="759.44" width="14" height="14" fill="#fcd2e4" stroke="#231f20" stroke-width="1.5"/>
<text x="401.5" y="770.4" font-size="11" text-anchor="start" fill="#2b2b2b" font-weight="normal" >Tumour other</text>
<rect x="377.2" y="783.56" width="14" height="14" fill="#231f20" stroke="#231f20" stroke-width="1.5"/>
<text x="401.5" y="794.6" font-size="11" text-anchor="start" fill="#2b2b2b" font-weight="normal" >No malignancy present</text>
</svg>
</body></html>
